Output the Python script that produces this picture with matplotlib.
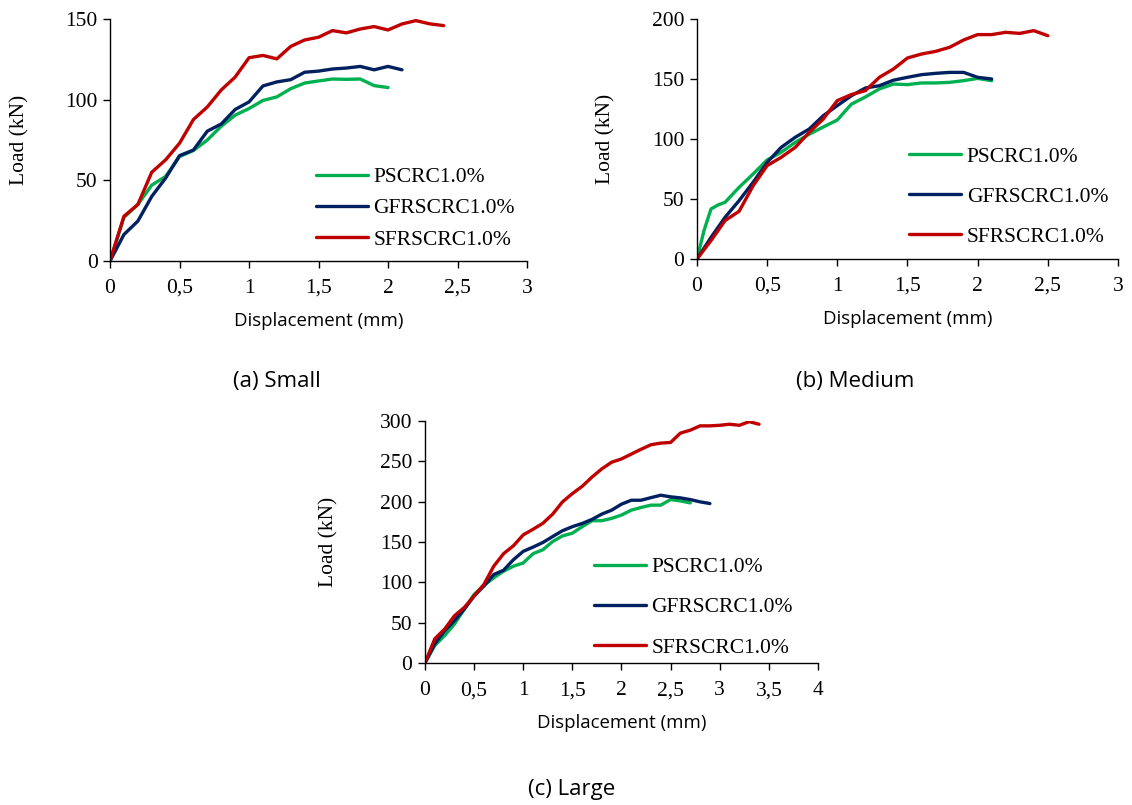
import matplotlib.pyplot as plt

# ---- data (displacement in mm, load in kN) ----
small_ps_x = [0, 0.1, 0.2, 0.3, 0.4, 0.5, 0.6, 0.7, 0.8, 0.9, 1.0, 1.1, 1.2, 1.3, 1.4, 1.5, 1.6, 1.7, 1.8, 1.9, 2.0]
small_ps_y = [0, 27, 35, 47, 52.4, 64.7, 68.5, 75, 83.5, 90.4, 94.5, 99.5, 101.7, 106.8, 110.3, 111.6, 112.8, 112.6, 112.8, 108.7, 107.5]
small_gf_x = [0, 0.1, 0.2, 0.3, 0.4, 0.5, 0.6, 0.7, 0.8, 0.9, 1.0, 1.1, 1.2, 1.3, 1.4, 1.5, 1.6, 1.7, 1.8, 1.9, 2.0, 2.1]
small_gf_y = [0, 16.4, 24.7, 40, 51.4, 65.3, 68.8, 80.5, 84.9, 93.9, 98.6, 108.5, 111, 112.4, 117, 117.7, 119, 119.6, 120.6, 118.5, 120.6, 118.5]
small_sf_x = [0, 0.1, 0.2, 0.3, 0.4, 0.5, 0.6, 0.7, 0.8, 0.9, 1.0, 1.1, 1.2, 1.3, 1.4, 1.5, 1.6, 1.7, 1.8, 1.9, 2.0, 2.1, 2.2, 2.3, 2.4]
small_sf_y = [0, 27.7, 35, 55, 62.7, 73, 87.7, 95.5, 106, 114, 126, 127.4, 125.3, 133, 137, 138.7, 142.8, 141.4, 143.8, 145.3, 143.2, 146.9, 149, 147, 145.9]

med_ps_x = [0, 0.05, 0.1, 0.15, 0.2, 0.3, 0.4, 0.5, 0.6, 0.7, 0.8, 0.9, 1.0, 1.1, 1.2, 1.3, 1.4, 1.5, 1.6, 1.7, 1.8, 1.9, 2.0, 2.1]
med_ps_y = [0, 23.6, 41.7, 45, 47.2, 59.7, 70.8, 82.5, 88.9, 97.2, 104, 110, 115.8, 129, 135, 141.7, 145.8, 145.3, 146.7, 146.7, 147.2, 148.6, 150.5, 148.6]
med_gf_x = [0, 0.1, 0.2, 0.3, 0.4, 0.5, 0.6, 0.7, 0.8, 0.9, 1.0, 1.1, 1.2, 1.3, 1.4, 1.5, 1.6, 1.7, 1.8, 1.9, 2.0, 2.1]
med_gf_y = [0, 18, 34.7, 48.6, 63.9, 80.5, 93, 101.4, 108.3, 119.4, 127.8, 136, 142.5, 144.4, 149, 151.4, 153.6, 154.7, 155.5, 155.5, 151.4, 150]
med_sf_x = [0, 0.1, 0.15, 0.2, 0.3, 0.4, 0.5, 0.6, 0.7, 0.8, 0.9, 1.0, 1.1, 1.2, 1.3, 1.4, 1.5, 1.6, 1.7, 1.8, 1.9, 2.0, 2.1, 2.2, 2.3, 2.4, 2.5]
med_sf_y = [0, 15.3, 23.6, 32, 39.7, 61, 77.8, 84.7, 93, 105.5, 116.7, 132, 137, 140.3, 151.4, 158.3, 167.5, 170.8, 173, 176.4, 182.5, 187, 187, 188.9, 188, 190.3, 186.1]

large_ps_x = [0, 0.1, 0.2, 0.3, 0.4, 0.5, 0.6, 0.7, 0.8, 0.9, 1.0, 1.1, 1.2, 1.3, 1.4, 1.5, 1.6, 1.7, 1.8, 1.9, 2.0, 2.1, 2.2, 2.3, 2.4, 2.5, 2.6, 2.7]
large_ps_y = [0, 21.7, 34, 48.3, 66.7, 85, 96.2, 105.6, 113.8, 120, 124, 135.5, 140.4, 150.6, 157.6, 160.9, 169, 176.4, 176.4, 179.3, 183.4, 189.5, 192.8, 195.7, 195.7, 202.6, 201, 198.5]
large_gf_x = [0, 0.1, 0.2, 0.3, 0.4, 0.5, 0.6, 0.7, 0.8, 0.9, 1.0, 1.1, 1.2, 1.3, 1.4, 1.5, 1.6, 1.7, 1.8, 1.9, 2.0, 2.1, 2.2, 2.3, 2.4, 2.5, 2.6, 2.7, 2.8, 2.9]
large_gf_y = [0, 23.7, 40, 52.4, 66.7, 83, 95.4, 109.7, 115, 128, 138.4, 143.7, 149.4, 156.8, 164, 169, 173, 178, 184.6, 189.5, 196.9, 201.8, 201.8, 205, 208, 206, 204.7, 202.6, 199.8, 197.7]
large_sf_x = [0, 0.1, 0.2, 0.3, 0.4, 0.5, 0.6, 0.7, 0.8, 0.9, 1.0, 1.1, 1.2, 1.3, 1.4, 1.5, 1.6, 1.7, 1.8, 1.9, 2.0, 2.1, 2.2, 2.3, 2.4, 2.5, 2.6, 2.7, 2.8, 2.9, 3.0, 3.1, 3.2, 3.3, 3.4]
large_sf_y = [0, 30, 42, 58.5, 68.8, 83, 97.4, 120, 135.5, 145.3, 158.8, 165.8, 173.2, 184.6, 199.8, 210, 219, 230.5, 240.7, 248.9, 253, 259, 265, 270.6, 272.6, 273.4, 285, 288.6, 294, 294, 294.7, 296, 294.7, 299.2, 296]

series_labels = ["PSCRC1.0%", "GFRSCRC1.0%", "SFRSCRC1.0%"]
series_colors = ["#00B050", "#002060", "#C00000"]

x_ticks_small = [0, 0.5, 1, 1.5, 2, 2.5, 3]
x_ticks_large = [0, 0.5, 1, 1.5, 2, 2.5, 3, 3.5, 4]

SERIF = "Liberation Serif"
SANS = "Open Sans"
SERIF_SIZE = 15.5


def comma(v):
    return f"{v:g}".replace(".", ",")


def draw_panel(ax, xs, ys, xticks, ymax, ystep, legend_anchor, spacing, ypad):
    for x, y, lab, col in zip(xs, ys, series_labels, series_colors):
        ax.plot(x, y, color=col, lw=2.4, label=lab, solid_capstyle="round")
    ax.set_xlim(0, xticks[-1])
    ax.set_ylim(0, ymax)
    ax.set_xticks(xticks)
    ax.set_xticklabels([comma(t) for t in xticks], family=SERIF, fontsize=SERIF_SIZE)
    yt = list(range(0, ymax + 1, ystep))
    ax.set_yticks(yt)
    ax.set_yticklabels([str(t) for t in yt], family=SERIF, fontsize=SERIF_SIZE)
    for side in ("top", "right"):
        ax.spines[side].set_visible(False)
    for side in ("left", "bottom"):
        ax.spines[side].set_linewidth(1.0)
    ax.tick_params(direction="out", length=5, width=1.0)
    ax.tick_params(axis="x", pad=8)
    ax.tick_params(axis="y", pad=4)
    ax.set_xlabel("Displacement (mm)", family=SANS, fontsize=13.4, labelpad=10)
    ax.set_ylabel("Load (kN)", family=SERIF, fontsize=SERIF_SIZE, labelpad=ypad)
    ax.legend(loc="upper left", bbox_to_anchor=legend_anchor, frameon=False,
              prop={"family": SERIF, "size": SERIF_SIZE}, handlelength=2.42,
              handletextpad=0.25, borderpad=0, borderaxespad=0,
              labelspacing=spacing)


fig = plt.figure(figsize=(11.32, 8.05), dpi=100)

ax_a = fig.add_axes([0.0972, 0.6758, 0.3684, 0.3006])
draw_panel(ax_a, [small_ps_x, small_gf_x, small_sf_x], [small_ps_y, small_gf_y, small_sf_y],
           x_ticks_small, 150, 50, (0.494, 0.388), 0.52, 26)

ax_b = fig.add_axes([0.6157, 0.6783, 0.3719, 0.2981])
draw_panel(ax_b, [med_ps_x, med_gf_x, med_sf_x], [med_ps_y, med_gf_y, med_sf_y],
           x_ticks_small, 200, 50, (0.504, 0.467), 0.92, 26)

ax_c = fig.add_axes([0.3754, 0.1764, 0.3472, 0.3006])
draw_panel(ax_c, [large_ps_x, large_gf_x, large_sf_x], [large_ps_y, large_gf_y, large_sf_y],
           x_ticks_large, 300, 50, (0.43, 0.438), 0.94, 30)

fig.text(277 / 1132, 1 - 381 / 805, "(a) Small", family=SANS, fontsize=16, ha="center", va="center")
fig.text(855 / 1132, 1 - 381 / 805, "(b) Medium", family=SANS, fontsize=16, ha="center", va="center")
fig.text(572 / 1132, 1 - 789 / 805, "(c) Large", family=SANS, fontsize=16, ha="center", va="center")

fig.savefig("out.png", dpi=100)
